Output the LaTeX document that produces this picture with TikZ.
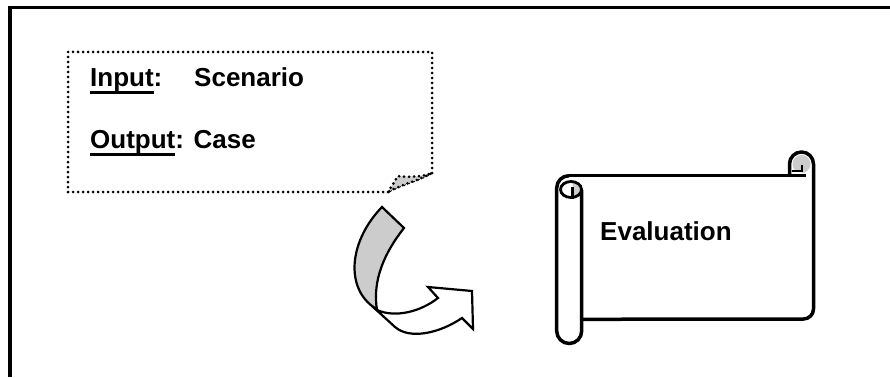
\documentclass[tikz,border=0pt]{standalone}
\usepackage{fontspec}
\setmainfont{Liberation Sans}
\usepackage{tikz}

\newsavebox{\ulbox}
\newcommand{\ulword}[1]{\sbox{\ulbox}{#1}\rlap{\rule[-7.5pt]{\wd\ulbox}{3pt}}\usebox{\ulbox}}

\begin{document}
\begin{tikzpicture}[
    x=1pt, y=-1pt,
    txt/.style={anchor=base west, inner sep=0pt, font=\fontsize{26}{30}\selectfont\bfseries},
    dots/.style={line width=3pt, dash pattern=on 0pt off 5pt, line cap=round},
    roll/.style={line width=3.5pt, line join=round},
    curlarrow/.style={line width=2.2pt, line join=miter},
    shade/.style={fill=gray!40}
  ]
  \useasboundingbox (0,0) rectangle (890,377);

  % Frame
  \draw[line width=3.6pt] (9.7,377) -- (9.7,7.7) -- (890,7.7);

  % Note
  \draw[dots] (388,192) -- (68,192) -- (68,52) -- (432,52) -- (432,173)
    .. controls (415,182) and (400,185) .. (388,192);
  \filldraw[dots, shade] (388,192) -- (398,176) .. controls (410,178) and (425,176) .. (432,173)
    .. controls (415,182) and (400,185) .. (388,192);
  \node[txt] (input) at (90,87) {\ulword{Input}:};
  \node[txt] (scenario) at (194,87) {Scenario};
  \node[txt] (output) at (90,148) {\ulword{Output}: Case};

  % Curved arrow
  \filldraw[curlarrow, shade] (382,207) -- (404,228) .. controls (385,252) and (372,280) .. (377,310)
    -- (372,306) .. controls (345,285) and (350,240) .. (382,207) -- cycle;
  \filldraw[curlarrow, fill=white] (372,306) -- (377,310) .. controls (395,318) and (420,312) .. (438,298)
    -- (428,287) -- (472,291) -- (473,329) -- (462,318)
    .. controls (440,333) and (410,340) .. (395,327) -- cycle;

  % Scroll
  \draw[roll] (569,175.7) -- (806,175.7);
  \fill[shade] (801.5,164) circle[radius=9];
  \draw[roll] (789.5,175.7) -- (789.5,164) arc[start angle=180, end angle=360, radius=12]
    -- (813.5,309) arc[start angle=0, end angle=90, radius=10] -- (581.7,319.3);
  \fill[white] (791.5,171) rectangle (802,174);
  \draw[line width=2.2pt] (791.5,171) -- (802,171) -- (802,165);
  \draw[roll] (581.7,190) -- (581.7,331) arc[start angle=0, end angle=180, radius=12.5]
    -- (556.7,188) arc[start angle=180, end angle=270, radius=12.3] -- (569,175.7);
  \fill[shade] (572.5,181.5) arc[start angle=270, end angle=450, x radius=9, y radius=8];
  \draw[line width=2.8pt] (571,189.5) ellipse[x radius=10.5, y radius=8];
  \draw[line width=2.8pt] (572.5,187) -- (572.5,199);
  \node[txt] (evaluation) at (600,240) {Evaluation};

\end{tikzpicture}
\end{document}
